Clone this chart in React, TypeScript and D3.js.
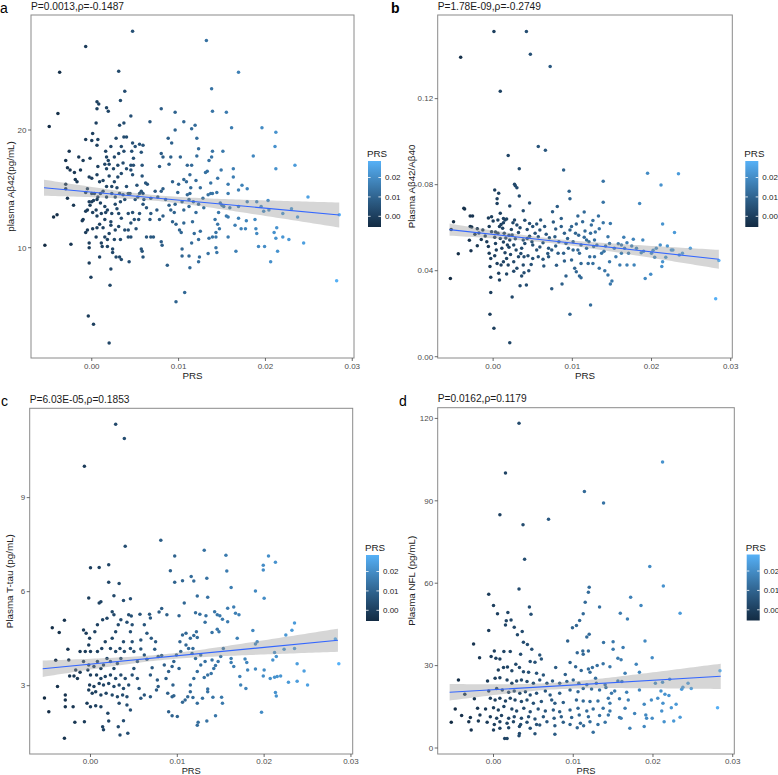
import React, { useEffect } from "react";
import * as d3 from "d3";

// PRS values are stored in units of 1e-3
const PRS_UNIT = 1e-3;
const prsDataRange = [-5.5, 28.5];
const prsTicks = [0, 0.01, 0.02, 0.03];
const legendTicks = [0, 0.01, 0.02];

// panel a: [PRS×1e3, plasma Aβ42 pg/mL]
const ptsA: [number, number][] = [[4.7,28.4],[-0.7,27.1],[13.2,27.6],[-3.7,24.9],[3.1,25.0],[16.9,24.9],[3.8,23.3],[13.8,23.5],[-3.9,21.4],[-4.9,20.3],[0.6,22.4],[0.8,22.2],[0.6,21.8],[1.7,21.9],[1.9,21.6],[3.3,22.5],[4.5,21.2],[3.7,20.6],[3.2,20.4],[0.5,20.6],[6.7,20.7],[8.0,21.8],[9.6,21.5],[13.9,21.6],[15.5,21.5],[10.6,20.7],[11.9,20.4],[11.5,20.1],[9.6,20.0],[16.1,20.2],[19.6,20.2],[21.2,19.8],[21.1,18.6],[21.2,16.7],[18.6,17.8],[23.4,17.0],[24.9,14.3],[23.7,12.6],[20.3,14.0],[20.4,13.2],[23.0,13.3],[22.0,12.9],[28.5,12.8],[28.2,7.2],[24.4,10.4],[22.7,10.7],[22.0,10.9],[21.2,10.8],[21.3,11.7],[21.0,11.3],[21.4,9.7],[20.6,8.8],[19.9,10.1],[19.2,10.1],[19.0,11.2],[18.9,11.6],[18.8,12.4],[17.7,11.6],[17.2,11.6],[16.6,9.7],[16.5,11.9],[16.9,12.5],[17.8,12.3],[16.9,13.5],[17.9,13.9],[19.0,13.9],[19.5,13.5],[19.8,13.1],[17.9,15.0],[17.3,15.3],[16.9,14.9],[16.3,16.7],[16.3,16.0],[15.7,15.4],[15.7,14.6],[15.9,13.4],[15.7,12.6],[15.7,10.9],[15.5,12.7],[15.1,18.2],[14.9,16.6],[14.5,15.9],[13.9,18.2],[13.8,17.7],[13.5,17.4],[13.3,16.5],[13.1,16.4],[13.7,15.5],[13.4,14.5],[13.7,14.6],[13.9,14.6],[14.4,14.7],[14.8,13.8],[15.0,13.6],[15.2,13.5],[14.6,13.0],[14.2,12.4],[14.5,12.0],[14.7,11.6],[14.3,11.3],[13.9,10.9],[13.5,10.8],[14.3,10.9],[14.3,10.0],[14.4,9.6],[13.4,9.5],[12.4,9.2],[12.3,8.8],[11.2,9.3],[11.3,8.3],[10.7,6.2],[9.7,5.4],[8.7,8.5],[10.4,9.9],[10.4,9.3],[11.5,10.4],[12.3,10.7],[11.8,11.2],[12.5,11.4],[11.6,12.2],[12.0,13.0],[12.9,13.4],[12.3,13.7],[11.7,13.9],[11.2,13.5],[10.6,13.2],[11.2,14.1],[11.3,14.6],[11.4,15.1],[10.9,15.6],[10.6,15.8],[11.0,14.5],[10.0,15.4],[9.9,14.7],[10.4,13.9],[9.6,13.7],[9.1,13.2],[9.5,13.0],[8.9,13.6],[8.5,14.1],[8.2,12.7],[7.5,13.2],[7.8,12.4],[9.3,12.2],[9.7,12.0],[10.6,12.1],[10.1,11.5],[10.3,11.3],[8.0,10.5],[8.1,10.2],[7.1,10.9],[6.8,10.9],[6.3,10.9],[8.2,15.0],[8.0,14.8],[7.3,14.8],[7.6,14.3],[7.8,16.9],[8.0,18.0],[9.1,17.7],[8.8,19.3],[9.2,18.9],[10.2,17.7],[11.0,17.0],[11.5,17.0],[12.1,19.3],[12.3,18.4],[12.1,17.8],[11.3,16.2],[12.0,15.7],[12.5,15.1],[12.8,14.2],[9.3,15.6],[8.9,17.1],[8.2,17.7],[6.4,15.4],[6.2,15.5],[5.9,14.6],[5.7,14.8],[5.8,16.1],[5.8,17.0],[5.9,18.7],[5.7,18.1],[5.5,18.8],[4.7,18.9],[5.0,18.6],[4.6,18.2],[4.8,17.6],[4.5,17.0],[4.8,17.0],[4.5,16.6],[4.7,16.2],[5.2,15.3],[5.5,14.6],[5.3,14.3],[5.0,14.1],[4.4,14.6],[4.2,14.6],[4.0,15.2],[3.8,14.1],[3.6,14.5],[3.2,14.6],[2.9,15.1],[2.6,15.6],[3.0,16.0],[3.4,16.3],[4.0,16.7],[3.6,17.2],[3.0,17.0],[2.6,17.7],[3.1,18.0],[3.7,18.2],[3.4,18.6],[3.7,19.4],[4.0,19.4],[2.8,19.3],[2.2,18.6],[1.6,18.2],[2.0,17.1],[1.5,17.1],[1.7,16.7],[2.0,16.1],[1.7,15.2],[1.3,14.8],[1.0,14.6],[0.7,14.3],[0.3,14.6],[0.0,14.6],[0.7,16.9],[0.6,16.2],[0.9,15.6],[0.0,15.9],[-0.3,16.0],[-0.2,17.6],[-0.7,19.2],[0.0,19.1],[0.7,19.2],[0.6,18.7],[0.1,19.7],[-1.0,17.4],[-1.5,17.7],[-1.3,16.6],[-2.0,16.4],[-1.9,15.8],[-1.7,15.6],[-2.6,18.2],[-3.0,17.4],[-2.8,16.8],[-2.5,16.6],[-3.0,15.4],[-2.8,14.2],[-2.1,13.6],[-1.0,12.4],[-0.7,14.7],[-0.5,15.0],[-0.3,13.9],[-0.2,13.6],[0.0,13.9],[0.2,14.0],[0.6,14.1],[0.5,13.2],[-0.5,13.2],[-0.7,13.1],[0.1,13.0],[0.6,12.7],[1.1,12.9],[1.0,13.8],[1.5,13.5],[1.8,13.2],[1.6,13.0],[2.3,12.9],[2.9,13.3],[2.7,13.7],[3.3,13.9],[3.1,12.9],[3.4,12.5],[4.2,12.9],[4.7,13.0],[4.9,12.4],[4.5,12.1],[5.1,11.6],[4.2,11.5],[3.8,11.5],[3.1,11.8],[2.7,11.5],[2.2,11.9],[2.2,12.2],[1.5,12.4],[0.9,12.0],[0.6,11.7],[0.1,11.6],[-0.5,11.5],[-0.7,11.3],[0.5,10.9],[1.5,10.9],[1.1,10.4],[1.2,10.1],[-0.3,10.0],[-0.3,10.4],[1.8,10.1],[2.4,9.9],[2.4,9.6],[3.2,9.2],[2.8,9.2],[3.4,9.0],[4.3,8.8],[0.9,9.2],[-0.3,8.7],[-0.1,7.5],[2.2,8.2],[2.1,6.8],[-0.4,4.2],[0.2,3.5],[2.0,1.9],[-5.4,10.2],[-2.4,10.3],[-4.4,12.6],[-4.0,12.8],[-3.0,15.0],[-1.1,12.3],[2.6,10.7],[3.3,10.7],[4.2,10.9],[4.5,10.9],[5.7,9.9],[5.9,9.2],[5.8,9.7],[5.4,12.4],[5.5,12.9],[6.3,13.4],[6.8,12.9],[6.7,12.4],[5.9,13.7],[6.0,14.1],[6.8,14.2],[1.3,11.7],[2.0,11.2],[1.8,10.7],[1.7,14.3],[2.3,14.6],[2.3,15.2],[2.7,14.3],[1.3,15.7],[1.7,17.7],[1.9,17.4],[2.5,16.7]];

// panel b: [PRS×1e3, Aβ42/Aβ40 ×1e3]
const ptsB: [number, number][] = [[0.1,151.2],[4.2,151.2],[-4.1,139.2],[4.7,140.6],[7.2,135.0],[0.9,123.4],[5.7,97.8],[6.6,96.0],[1.9,93.6],[3.3,87.4],[8.9,86.8],[19.5,85.3],[23.4,85.1],[21.2,79.8],[13.9,81.6],[9.6,76.9],[9.7,73.5],[13.9,71.8],[18.5,71.2],[0.2,77.5],[0.7,76.0],[2.7,80.2],[2.8,79.5],[3.0,78.6],[3.3,74.7],[0.5,73.5],[4.6,71.5],[0.5,71.3],[2.1,70.1],[3.8,67.9],[-3.7,69.0],[-3.6,68.7],[-2.9,65.4],[-2.6,65.4],[-5.0,62.8],[-5.3,59.1],[-4.4,47.9],[-5.4,36.4],[-2.9,60.6],[-2.7,60.3],[-2.0,59.5],[-3.0,54.1],[-2.8,49.3],[-2.0,51.6],[-2.3,56.9],[-1.3,58.9],[-1.0,56.1],[-0.8,53.5],[-0.6,64.5],[-0.2,65.1],[0.0,63.1],[-0.5,60.5],[-0.2,58.1],[-0.6,51.2],[-0.5,48.1],[-0.3,45.7],[-0.4,41.9],[-0.3,36.9],[-0.3,29.9],[-0.4,19.7],[0.1,13.2],[2.1,6.5],[2.4,27.8],[0.5,43.4],[0.7,38.8],[0.8,35.7],[1.0,42.6],[0.4,49.6],[0.3,52.7],[0.2,55.5],[0.6,57.4],[0.8,60.5],[0.6,63.6],[0.9,66.7],[1.3,64.3],[1.5,63.6],[1.7,64.0],[1.3,62.3],[1.2,59.7],[1.4,57.4],[1.6,55.2],[1.3,53.3],[1.1,50.4],[1.5,48.4],[1.7,45.7],[1.3,44.2],[1.9,42.6],[2.0,50.9],[2.1,54.3],[2.4,56.6],[2.3,59.2],[2.5,62.3],[2.7,63.6],[3.0,61.2],[3.2,57.8],[2.8,54.9],[2.6,51.9],[2.9,49.6],[3.2,46.5],[2.6,44.2],[3.0,41.1],[2.6,39.7],[3.6,37.5],[3.4,33.0],[4.2,33.3],[4.5,40.0],[4.8,42.9],[3.8,42.6],[3.9,46.5],[3.6,50.4],[4.0,52.7],[4.3,55.0],[3.8,54.3],[4.3,59.2],[4.6,62.0],[5.0,60.5],[5.5,61.7],[5.3,57.4],[5.7,55.8],[5.0,51.9],[5.5,49.6],[5.7,46.5],[5.0,45.7],[6.3,45.3],[6.4,42.2],[6.0,63.6],[5.9,58.9],[6.3,53.0],[7.1,55.3],[7.6,62.6],[7.5,67.4],[8.1,69.8],[7.9,59.4],[7.8,55.8],[7.9,51.5],[7.4,49.6],[7.0,50.4],[8.2,48.1],[7.4,31.6],[8.7,33.8],[9.2,37.5],[8.6,64.3],[8.6,60.5],[9.0,57.4],[9.2,52.7],[9.5,50.4],[8.9,48.1],[9.7,58.9],[9.9,60.5],[10.5,61.7],[10.4,57.4],[10.1,53.5],[10.1,49.6],[9.9,45.0],[10.3,41.1],[10.5,39.5],[9.7,19.7],[10.7,65.4],[11.5,67.3],[11.3,62.8],[11.5,55.5],[11.1,51.9],[10.9,48.1],[11.1,43.4],[10.9,37.5],[11.1,36.7],[12.3,24.0],[11.8,54.3],[12.1,53.5],[12.3,57.4],[12.6,63.3],[13.3,65.4],[12.7,51.2],[12.2,46.5],[12.0,43.4],[12.6,43.4],[12.8,46.5],[13.7,48.1],[13.4,41.1],[14.1,40.0],[14.5,38.0],[14.8,33.8],[15.0,35.2],[13.4,59.5],[13.9,62.3],[14.5,55.8],[14.7,52.7],[14.2,51.5],[14.8,62.0],[15.3,50.4],[15.5,46.5],[14.7,44.2],[16.0,42.6],[16.2,48.1],[16.5,55.5],[16.9,53.0],[16.6,50.4],[17.1,48.1],[16.9,42.6],[17.8,42.6],[17.7,54.6],[18.9,54.3],[18.1,50.4],[18.7,48.4],[19.2,36.4],[19.9,38.4],[20.6,50.4],[20.4,46.2],[20.0,48.1],[21.1,51.9],[21.3,41.9],[21.4,44.2],[21.4,61.7],[22.0,51.5],[21.8,46.2],[22.5,49.6],[22.7,49.6],[22.9,57.8],[23.5,47.3],[23.9,48.1],[24.9,50.4],[28.1,27.0],[28.5,44.7],[12.4,61.2],[12.8,54.3],[10.7,49.6],[11.8,50.4],[0.3,58.0],[0.9,55.0],[1.8,52.0],[2.2,47.5],[3.5,48.0],[4.4,47.0],[4.9,53.5],[5.9,51.0],[6.7,57.0],[6.9,48.0],[3.4,60.0],[4.0,63.5],[1.0,61.5],[-1.5,54.5],[-1.8,57.5],[2.0,56.5],[4.6,56.0],[6.5,60.5],[8.3,53.5],[9.4,55.0],[10.8,56.5],[11.6,58.5],[12.9,58.0],[13.1,52.0],[14.0,49.0],[15.8,52.5],[16.2,52.0],[17.5,51.5],[19.0,49.0],[20.2,49.5],[9.0,44.5],[8.0,42.5],[7.0,46.5],[3.9,39.0],[1.7,38.5],[0.2,47.0]];

// panel c: [PRS×1e3, plasma T-tau pg/mL]
const ptsC: [number, number][] = [[2.9,11.34],[3.9,10.89],[-0.7,10.0],[8.1,7.64],[4.0,7.45],[13.1,7.32],[15.6,7.16],[9.7,7.14],[20.5,7.14],[21.3,6.94],[19.9,6.84],[19.9,6.69],[0.0,6.76],[1.0,6.77],[2.1,6.86],[9.2,6.67],[15.7,6.66],[10.6,6.35],[11.6,6.48],[11.9,6.34],[13.4,6.43],[9.7,6.30],[2.1,6.30],[3.3,6.26],[16.2,6.13],[19.0,6.02],[20.0,5.79],[-0.2,5.80],[2.7,5.87],[3.8,5.72],[4.6,5.77],[1.0,5.64],[1.2,5.68],[10.8,5.64],[12.3,5.86],[13.5,5.82],[8.2,5.46],[7.9,5.35],[8.8,5.26],[10.2,5.23],[6.8,5.28],[5.7,5.28],[6.9,5.16],[12.1,5.33],[12.6,5.28],[13.3,5.23],[14.3,5.36],[14.6,5.26],[14.9,5.23],[15.2,5.12],[15.8,5.47],[16.5,5.51],[17.1,5.26],[16.7,5.31],[15.8,5.04],[13.2,5.02],[12.2,4.72],[14.0,4.70],[14.6,4.80],[14.8,4.72],[16.9,4.51],[18.7,4.76],[19.0,4.33],[19.2,4.40],[22.5,4.62],[23.2,4.77],[23.5,5.00],[23.5,4.19],[22.3,4.16],[21.2,4.06],[21.4,3.93],[21.0,3.82],[23.8,3.70],[24.6,3.47],[28.2,4.49],[28.6,3.70],[25.0,3.02],[23.8,3.14],[22.8,3.11],[21.9,3.31],[21.5,3.29],[21.2,3.27],[20.7,3.23],[19.9,3.31],[20.0,3.50],[19.0,3.53],[18.1,3.50],[18.0,3.74],[17.8,3.85],[17.2,3.29],[17.3,3.02],[17.9,2.91],[21.3,2.78],[21.4,2.67],[19.7,2.15],[16.5,3.61],[16.2,3.87],[16.2,3.74],[15.3,4.19],[15.0,3.93],[14.7,3.77],[14.4,3.64],[14.0,3.82],[14.2,3.55],[13.9,3.39],[13.5,3.34],[13.1,3.26],[13.5,2.89],[13.5,2.81],[14.1,2.63],[15.1,2.63],[15.2,2.44],[14.4,2.04],[13.4,1.87],[12.4,1.83],[12.3,1.74],[12.3,2.44],[12.9,2.60],[11.8,2.62],[11.5,2.81],[11.2,2.65],[10.9,2.54],[10.6,2.47],[11.5,3.02],[11.9,3.23],[12.3,3.45],[12.7,3.66],[13.2,3.77],[12.7,3.98],[12.1,3.87],[11.7,4.03],[11.8,4.19],[11.3,4.19],[11.0,4.30],[11.5,4.51],[11.9,4.60],[12.3,4.54],[11.0,4.67],[10.6,4.62],[10.3,4.40],[10.4,4.09],[9.9,3.98],[9.6,3.77],[10.2,3.55],[9.4,3.61],[9.0,3.45],[8.7,3.23],[9.5,3.02],[9.6,2.68],[8.9,2.76],[9.4,2.65],[9.0,2.17],[9.4,2.04],[10.0,2.02],[8.5,3.66],[8.2,3.96],[7.8,3.93],[7.4,4.16],[7.5,4.40],[7.0,4.51],[6.5,4.67],[6.2,4.94],[5.8,4.46],[5.8,4.17],[6.2,3.98],[6.5,3.84],[7.1,3.57],[6.9,3.34],[7.7,3.18],[7.8,2.97],[7.6,2.86],[6.9,2.65],[6.2,2.70],[5.8,2.60],[5.6,2.91],[5.4,3.23],[4.8,3.34],[5.0,3.55],[5.4,3.77],[5.0,4.09],[4.6,4.19],[4.8,4.40],[4.6,4.72],[4.8,4.94],[4.4,5.26],[4.7,5.22],[4.2,5.02],[3.5,5.10],[3.2,4.94],[2.9,4.72],[2.5,4.51],[2.7,5.26],[2.5,5.36],[1.9,5.15],[1.4,5.10],[0.8,4.94],[0.5,4.72],[-0.1,4.51],[-0.5,4.67],[-0.8,4.78],[-0.2,4.30],[0.0,4.09],[0.8,4.09],[1.3,4.19],[1.7,4.40],[2.3,4.19],[2.9,4.09],[3.4,4.19],[3.8,4.40],[3.9,4.09],[3.5,3.87],[3.1,3.71],[2.7,3.55],[2.3,3.77],[1.9,3.87],[1.5,3.66],[1.2,3.55],[0.8,3.77],[0.4,3.61],[-0.2,3.66],[-0.3,3.50],[0.0,3.34],[0.7,3.34],[1.2,3.23],[1.7,3.29],[2.3,3.34],[2.9,3.23],[3.5,3.34],[4.0,3.23],[4.4,3.02],[3.8,2.91],[3.3,3.02],[2.7,2.97],[2.1,3.07],[1.5,3.02],[1.0,3.07],[0.4,2.97],[-0.1,3.02],[-0.2,2.86],[0.2,2.76],[0.6,2.81],[1.2,2.70],[1.8,2.76],[2.5,2.70],[3.1,2.65],[3.7,2.70],[4.2,2.65],[3.3,2.44],[4.6,2.22],[4.2,2.38],[1.2,2.33],[0.6,2.36],[-0.4,2.44],[0.0,2.33],[2.0,2.12],[2.1,1.87],[1.4,1.69],[1.5,1.59],[3.2,1.69],[3.4,1.43],[4.3,1.48],[3.8,1.88],[-0.7,1.85],[-1.8,1.83],[-2.0,2.33],[-2.9,2.33],[-3.0,1.32],[-2.9,2.54],[-2.9,2.70],[-3.8,2.97],[-4.8,2.17],[-5.3,2.61],[-4.4,4.85],[-3.6,4.70],[-4.0,3.81],[-3.0,5.09],[-2.6,4.16],[-2.5,3.82],[-2.4,3.31],[-1.9,3.31],[-1.7,3.50],[-1.5,3.23],[-1.2,3.43],[-0.8,3.77],[-0.6,4.09],[-1.2,4.09]];

// panel d: [PRS×1e3, plasma NFL pg/mL]
const ptsD: [number, number][] = [[3.2,118.2],[1.5,100.1],[21.2,104.1],[11.4,93.4],[13.8,89.2],[0.8,84.9],[6.9,83.3],[3.7,81.3],[3.9,68.7],[19.6,66.1],[21.3,59.0],[3.2,57.9],[12.0,58.5],[-0.6,56.0],[11.9,56.7],[17.2,54.9],[11.5,53.1],[13.3,51.3],[18.5,51.9],[4.5,51.3],[0.0,51.9],[4.7,48.7],[0.5,48.9],[1.8,49.3],[11.25,48.9],[15.9,49.1],[23.4,49.1],[16.8,47.0],[1.6,46.3],[2.2,46.6],[1.5,44.8],[2.6,44.0],[10.8,46.4],[10.4,44.6],[9.9,43.8],[-0.6,42.8],[3.6,42.4],[3.0,41.2],[12.0,41.4],[11.7,40.4],[3.75,38.5],[4.25,37.7],[9.3,39.0],[13.8,38.4],[15.0,38.7],[19.0,39.0],[-2.5,37.9],[4.8,36.0],[16.25,36.6],[15.0,36.0],[10.5,34.7],[11.2,35.3],[11.9,35.3],[11.25,34.1],[0.1,35.3],[1.3,35.1],[2.1,35.1],[3.4,34.1],[5.8,33.9],[6.0,32.4],[-1.75,32.9],[-0.3,33.3],[0.3,32.7],[0.8,32.4],[19.9,32.9],[15.6,32.7],[16.0,32.1],[4.6,31.5],[5.2,31.2],[9.6,31.1],[10.3,29.6],[12.4,29.3],[13.0,30.0],[13.75,30.7],[14.6,29.6],[17.9,30.5],[0.6,28.4],[1.25,29.3],[1.75,29.5],[2.3,28.1],[2.8,30.5],[3.25,29.3],[7.8,29.3],[3.75,27.8],[4.4,27.6],[5.4,27.2],[6.25,26.6],[9.0,26.8],[11.0,28.2],[11.9,28.8],[12.1,27.6],[12.8,25.4],[16.5,27.2],[18.3,27.6],[28.4,28.1],[-0.75,24.4],[-4.4,24.8],[0.2,25.4],[0.8,25.6],[1.7,24.8],[2.3,23.6],[2.9,24.4],[3.5,24.8],[4.2,24.2],[5.0,23.6],[5.8,24.8],[6.7,23.6],[7.4,24.4],[8.3,23.6],[9.2,24.2],[10.0,24.8],[10.7,23.6],[11.7,23.0],[12.9,23.6],[14.0,23.0],[15.6,24.4],[16.1,24.2],[20.3,23.6],[21.2,23.9],[22.1,25.0],[24.4,23.6],[23.75,22.1],[24.8,21.7],[23.6,21.4],[-3.6,19.6],[-0.6,20.8],[0.4,21.7],[1.1,21.1],[1.9,20.3],[2.6,20.8],[3.3,19.9],[4.0,20.5],[4.6,19.3],[5.4,19.9],[6.5,20.8],[7.1,19.3],[8.3,19.9],[9.6,21.1],[10.6,20.5],[11.25,21.7],[12.3,21.5],[13.3,21.1],[14.1,22.0],[14.8,19.9],[15.2,20.8],[16.7,20.3],[18.3,21.1],[21.0,20.8],[21.5,19.6],[22.0,19.1],[-2.4,17.9],[-0.4,18.1],[0.2,17.5],[0.8,18.1],[1.5,17.1],[2.1,18.1],[2.7,17.5],[3.5,16.9],[4.2,17.5],[5.0,16.3],[6.0,16.9],[7.3,17.5],[7.7,16.3],[8.75,16.6],[10.4,17.5],[11.25,17.1],[12.1,16.9],[13.1,17.1],[14.4,18.1],[14.6,16.3],[15.8,17.9],[16.9,17.5],[19.8,17.5],[20.6,18.1],[18.9,15.9],[21.25,16.3],[22.9,15.9],[22.3,14.7],[28.1,14.7],[-4.8,14.2],[-2.0,14.5],[-1.0,14.2],[0.0,14.7],[0.6,13.8],[1.3,15.1],[2.3,14.2],[2.9,13.5],[3.8,14.5],[4.6,13.2],[5.6,14.2],[6.5,13.5],[7.5,13.8],[8.3,13.2],[9.6,13.8],[10.6,14.5],[11.7,13.5],[12.5,14.2],[13.75,14.5],[14.6,13.5],[16.5,14.5],[-4.0,11.8],[-2.9,11.1],[-1.7,12.0],[-0.4,11.4],[0.4,10.8],[1.0,11.8],[1.9,10.8],[2.6,11.4],[3.5,10.8],[4.4,11.4],[5.2,10.6],[6.25,11.4],[7.6,10.8],[8.5,11.4],[9.8,11.1],[10.75,12.0],[11.9,11.4],[13.3,11.8],[14.4,12.0],[15.8,11.1],[17.7,12.6],[19.1,12.0],[21.1,13.5],[23.4,11.2],[-3.1,9.6],[-1.9,9.8],[-0.8,9.4],[0.1,8.6],[0.8,9.6],[1.7,9.0],[2.5,9.6],[3.4,8.6],[4.2,9.4],[5.4,8.6],[6.7,9.6],[7.7,8.1],[8.75,9.4],[9.6,8.6],[10.9,9.0],[12.1,9.6],[13.1,8.6],[14.0,9.4],[16.0,10.8],[19.2,10.8],[19.9,10.8],[21.4,9.6],[22.6,9.8],[-5.3,9.4],[-2.8,6.6],[0.0,6.6],[0.8,7.2],[1.9,7.4],[3.25,7.8],[4.6,7.2],[5.8,8.4],[7.7,5.0],[10.5,7.4],[11.3,8.1],[12.5,5.7],[17.1,7.2],[18.9,7.8],[3.2,4.5],[3.25,5.3],[5.2,5.2],[1.4,3.5],[1.7,3.5]];

// linear fit (geom_smooth, lm): ends of line, CI half-widths at ends, narrowest half-width
const fitA = { y: [15.1, 12.78], half: [0.68, 1.06], minHalf: 0.24 };
const fitB = { y: [59.1, 45.3], half: [2.8, 4.4], minHalf: 1.1 };
const fitC = { y: [3.54, 4.45], half: [0.26, 0.37], minHalf: 0.09 };
const fitD = { y: [20.3, 26.1], half: [3.0, 4.6], minHalf: 1.2 };

const FONT = "'Liberation Sans', Arial, Helvetica, sans-serif";

type Panel = {
  letter: string; bold: boolean; letterX: number; title: string; ytitle: string;
  pts: [number, number][]; yUnit: number; yDomain: [number, number]; yTicks: number[];
  yFmt: (v: number) => string; box: { l: number; r: number; t: number; b: number };
  fit: { y: number[]; half: number[]; minHalf: number };
  legend: { x: number; y: number };
};

const panels: Panel[] = [
  { letter: "a", bold: false, letterX: 0, title: "P=0.0013,ρ=-0.1487", ytitle: "plasma Aβ42(pg/mL)", pts: ptsA, yUnit: 1,
    yDomain: [0.63, 29.77], yTicks: [10, 20], yFmt: (v) => String(v), box: { l: 31, r: 354, t: 15, b: 358 }, fit: fitA, legend: { x: 368, y: 161 } },
  { letter: "b", bold: true, letterX: 391, title: "P=1.78E-09,ρ=-0.2749", ytitle: "Plasma Aβ42/Aβ40", pts: ptsB, yUnit: 1e-3,
    yDomain: [-0.0006, 0.1589], yTicks: [0, 0.04, 0.08, 0.12], yFmt: (v) => v.toFixed(2), box: { l: 437.7, r: 732.3, t: 15, b: 358 }, fit: fitB, legend: { x: 745.3, y: 161 } },
  { letter: "c", bold: false, letterX: 1, title: "P=6.03E-05,ρ=0.1853", ytitle: "Plasma T-tau (pg/mL)", pts: ptsC, yUnit: 1,
    yDomain: [0.82, 11.85], yTicks: [3, 6, 9], yFmt: (v) => String(v), box: { l: 29.7, r: 352.7, t: 408.3, b: 754 }, fit: fitC, legend: { x: 366, y: 555 } },
  { letter: "d", bold: false, letterX: 399, title: "P=0.0162,ρ=0.1179", ytitle: "Plasma NFL (pg/mL)", pts: ptsD, yUnit: 1,
    yDomain: [-2.18, 123.9], yTicks: [0, 30, 60, 90, 120], yFmt: (v) => String(v), box: { l: 437.7, r: 734.3, t: 407.7, b: 754 }, fit: fitD, legend: { x: 746.7, y: 554.5 } },
];

const colorScale = d3
  .scaleLinear<string>()
  .domain([prsDataRange[0] * PRS_UNIT, prsDataRange[1] * PRS_UNIT])
  .range(["#132B43", "#56B1F7"])
  .interpolate(d3.interpolateLab);

const BAR_W = 13;
const BAR_H = 66;

function PanelView({ p, idx }: { p: Panel; idx: number }) {
  const { box } = p;
  const x = d3.scaleLinear().domain([-0.007, 0.0302]).range([box.l, box.r]);
  const y = d3.scaleLinear().domain(p.yDomain).range([box.b, box.t]);
  const x0 = prsDataRange[0], x1 = prsDataRange[1];
  const f = p.fit;
  const lineY = (xv: number) => f.y[0] + ((f.y[1] - f.y[0]) * (xv - x0)) / (x1 - x0);
  const a = f.minHalf * f.minHalf;
  const r0 = Math.sqrt(Math.max(f.half[0] ** 2 - a, 1e-9));
  const r1 = Math.sqrt(Math.max(f.half[1] ** 2 - a, 1e-9));
  const m = (r1 * x0 + r0 * x1) / (r0 + r1);
  const k = r0 / (m - x0);
  const halfAt = (xv: number) => Math.sqrt(a + (k * (xv - m)) ** 2);
  const samples = d3.range(0, 81).map((i) => x0 + ((x1 - x0) * i) / 80);
  const area = d3
    .area<number>()
    .x((xv) => x(xv * PRS_UNIT))
    .y0((xv) => y((lineY(xv) - halfAt(xv)) * p.yUnit))
    .y1((xv) => y((lineY(xv) + halfAt(xv)) * p.yUnit));
  const line = d3
    .line<number>()
    .x((xv) => x(xv * PRS_UNIT))
    .y((xv) => y(lineY(xv) * p.yUnit));

  const lg = p.legend;
  const ly = d3
    .scaleLinear()
    .domain([prsDataRange[0] * PRS_UNIT, prsDataRange[1] * PRS_UNIT])
    .range([lg.y + BAR_H, lg.y]);
  const gradId = `grad${idx}`;
  const stops = d3.range(0, 11).map((i) => i / 10);
  const cx = (box.l + box.r) / 2;
  const cy = (box.t + box.b) / 2;
  const ytitleX = idx % 2 === 0 ? box.l - 17 : box.l - 22.5;
  const cd = colorScale.domain();
  const bottomRow = box.b > 700;

  return (
    <g>
      <defs>
        <linearGradient id={gradId} x1="0" y1="1" x2="0" y2="0">
          {stops.map((s) => (
            <stop key={s} offset={s} stopColor={colorScale(cd[0] + s * (cd[1] - cd[0]))} />
          ))}
        </linearGradient>
        <clipPath id={`clip${idx}`}>
          <rect x={box.l} y={box.t} width={box.r - box.l} height={box.b - box.t} />
        </clipPath>
      </defs>
      <text x={p.letterX} y={box.t - 2} fontSize={14} fontWeight={p.bold ? "bold" : "normal"} fontFamily={FONT} fill="#000">{p.letter}</text>
      <text x={box.l} y={box.t - 5.5} fontSize={10.2} fontFamily={FONT} fill="#1a1a1a">{p.title}</text>
      <g clipPath={`url(#clip${idx})`}>
        {p.pts.map((d, i) => (
          <circle key={i} cx={x(d[0] * PRS_UNIT)} cy={y(d[1] * p.yUnit)} r={1.75} fill={colorScale(d[0] * PRS_UNIT)} />
        ))}
        <path d={area(samples) || ""} fill="#999999" fillOpacity={0.4} />
        <path d={line([x0, x1]) || ""} fill="none" stroke="#3366FF" strokeWidth={1.1} />
      </g>
      <rect x={box.l} y={box.t} width={box.r - box.l} height={box.b - box.t} fill="none" stroke="#8a8a8a" strokeWidth={1} />
      {prsTicks.map((t) => (
        <g key={t}>
          <line x1={x(t)} x2={x(t)} y1={box.b} y2={box.b + 3} stroke="#444" strokeWidth={0.8} />
          <text x={x(t)} y={box.b + (bottomRow ? 9.8 : 10.5)} fontSize={8} textAnchor="middle" fontFamily={FONT} fill="#4d4d4d">{t.toFixed(2)}</text>
        </g>
      ))}
      {p.yTicks.map((t) => (
        <g key={t}>
          <line x1={box.l - 3} x2={box.l} y1={y(t)} y2={y(t)} stroke="#444" strokeWidth={0.8} />
          <text x={box.l - 4.5} y={y(t) + 2.8} fontSize={8} textAnchor="end" fontFamily={FONT} fill="#4d4d4d">{p.yFmt(t)}</text>
        </g>
      ))}
      <text x={cx} y={bottomRow ? 773.5 : box.b + 21} fontSize={bottomRow ? 9.3 : 9.8} textAnchor="middle" fontFamily={FONT} fill="#222">PRS</text>
      <text transform={`translate(${ytitleX},${cy}) rotate(-90)`} fontSize={9.8} textAnchor="middle" fontFamily={FONT} fill="#222">{p.ytitle}</text>
      <text x={lg.x - 1} y={lg.y - 4} fontSize={9.8} fontFamily={FONT} fill="#222">PRS</text>
      <rect x={lg.x} y={lg.y} width={BAR_W} height={BAR_H} fill={`url(#${gradId})`} />
      {legendTicks.map((t) => (
        <g key={t}>
          <line x1={lg.x} x2={lg.x + 2.6} y1={ly(t)} y2={ly(t)} stroke="#fff" strokeWidth={0.8} />
          <line x1={lg.x + BAR_W - 2.6} x2={lg.x + BAR_W} y1={ly(t)} y2={ly(t)} stroke="#fff" strokeWidth={0.8} />
          <text x={lg.x + BAR_W + 4} y={ly(t) + 2.8} fontSize={8} fontFamily={FONT} fill="#222">{t.toFixed(2)}</text>
        </g>
      ))}
    </g>
  );
}

export default function App() {
  useEffect(() => {
    document.body.style.margin = "0";
  }, []);
  return (
    <svg width={778} height={775} style={{ display: "block", background: "#fff" }}>
      <rect width={778} height={775} fill="#fff" />
      {panels.map((p, i) => (
        <PanelView key={p.letter} p={p} idx={i} />
      ))}
    </svg>
  );
}
